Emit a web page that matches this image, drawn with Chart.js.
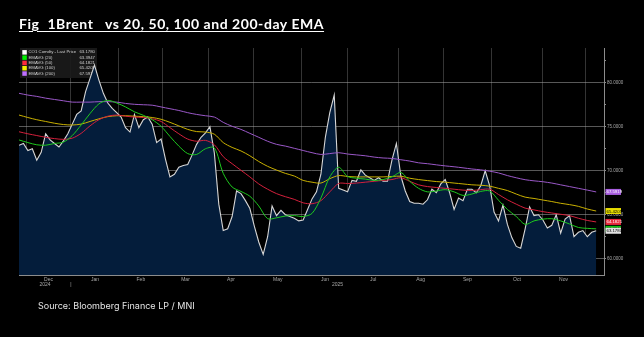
<!DOCTYPE html>
<html><head><meta charset="utf-8">
<script src="https://cdn.jsdelivr.net/npm/chart.js@4.4.1/dist/chart.umd.min.js"></script>
<style>
html,body{margin:0;padding:0;background:#000;width:644px;height:337px;overflow:hidden;}
#wrap{position:relative;width:644px;height:337px;}
#c{position:absolute;left:0;top:0;}
#title{position:absolute;left:19px;top:17px;color:#fff;font:700 14px/14px Lato, sans-serif;letter-spacing:0.55px;text-decoration:underline;text-underline-offset:2px;white-space:pre;}
#src{position:absolute;left:38px;top:301px;color:#e6e6e6;font:9px/9px Inter, sans-serif;white-space:pre;}
</style></head><body>
<div id="wrap"><canvas id="c" width="644" height="337"></canvas>
<div id="title">Fig  1Brent   vs 20, 50, 100 and 200-day EMA</div>
<div id="src">Source: Bloomberg Finance LP / MNI</div></div>
<script>
// ---- data (x unit = one sample = 2 trading days, starting late Nov 2024) ----
const monthLabels = ['Dec','Jan','Feb','Mar','Apr','May','Jun','Jul','Aug','Sep','Oct','Nov'];
const monthStarts = [1.6, 11.7, 22.5, 32.4, 42.6, 52.9, 63.7, 74.1, 85.4, 95.5, 106.5, 117.8, 127.5];
const yearLabels = ['2024','2025'];
const yMajorTicks = [60, 65, 70, 75, 80];
const yMinorTicks = [62.5, 67.5, 72.5, 77.5, 82.5];

const price = [72.9,73.1,72.3,72.5,71.2,72.1,74.2,73.5,73.1,72.7,
73.4,74.2,75.3,76.4,76.8,79.0,80.5,82.0,80.3,78.8,
77.7,77.1,76.6,76.1,74.9,74.4,76.4,74.9,75.8,76.1,
75.3,73.2,73.6,71.3,69.3,69.6,70.4,70.6,70.7,71.8,
73.0,73.8,74.3,75.0,72.0,66.2,63.2,63.4,64.8,67.7,
67.4,66.6,65.7,63.7,61.9,60.5,62.5,66.0,64.9,65.5,
65.0,64.8,64.6,64.3,64.4,65.6,66.8,67.6,69.6,73.8,
76.6,78.6,68.0,67.8,67.6,68.9,68.8,70.1,69.5,69.2,
68.9,69.2,68.8,68.8,71.2,73.1,69.4,67.7,66.5,66.3,
66.3,66.2,66.7,67.9,67.5,68.5,69.0,67.5,65.6,66.9,
66.6,67.9,67.9,67.5,68.3,70.0,68.3,65.3,64.3,66.1,
63.9,62.4,61.4,61.2,63.4,65.9,64.9,65.0,64.4,63.5,
63.8,65.0,62.9,64.5,64.9,62.5,63.0,63.2,62.5,63.0,
63.178];

const emaStep = 2; // EMAs sampled every 2nd price sample
const ema20 = [73.5,73.2,72.95,72.9,73.1,73.25,74.0,75.2,76.5,77.6,
78.0,77.7,77.25,76.7,76.3,75.8,75.05,73.9,72.8,71.95,
71.85,72.5,72.6,69.7,68.15,67.65,67.1,66.0,64.55,64.65,
64.85,64.9,64.8,65.15,66.9,69.3,70.4,69.35,69.15,69.05,
68.9,69.0,69.3,69.8,68.8,68.0,67.6,67.7,67.85,67.6,
67.2,67.35,67.65,67.7,66.65,65.6,64.8,63.9,64.3,64.5,
64.55,64.3,63.95,63.55,63.45,63.3947];
const ema50 = [74.43,74.2,74.0,73.8,73.65,73.57,73.7,74.25,75.1,75.8,
76.2,76.33,76.2,76.1,76.05,75.9,75.6,74.9,74.2,73.6,
73.35,73.45,72.95,71.6,70.8,70.05,69.3,68.5,67.9,67.4,
67.05,66.75,66.35,66.25,66.6,67.6,68.55,68.55,68.6,68.7,
68.8,68.9,69.0,69.2,68.8,68.4,68.2,68.1,68.0,67.9,
67.8,67.75,67.85,67.9,67.3,66.7,66.2,65.75,65.55,65.35,
65.2,65.05,64.9,64.6,64.35,64.1821];
const ema100 = [76.33,76.05,75.8,75.6,75.4,75.25,75.2,75.3,75.6,75.9,
76.15,76.25,76.25,76.2,76.15,76.05,75.85,75.5,75.1,74.7,
74.45,74.4,74.15,73.2,72.65,72.25,71.7,71.05,70.5,70.08,
69.7,69.4,68.9,68.7,68.6,69.1,69.45,69.35,69.3,69.3,
69.3,69.3,69.35,69.38,69.15,69.0,68.88,68.77,68.7,68.6,
68.5,68.4,68.35,68.25,68.0,67.75,67.35,67.0,66.85,66.67,
66.5,66.3,66.15,65.95,65.65,65.4205];
const ema200 = [78.8,78.6,78.45,78.25,78.1,77.95,77.8,77.8,77.8,77.85,
77.85,77.8,77.65,77.55,77.5,77.45,77.25,77.05,76.85,76.6,
76.4,76.25,76.1,75.5,75.05,74.7,74.25,73.8,73.35,73.0,
72.8,72.55,72.3,72.05,71.85,71.95,72.05,71.9,71.8,71.7,
71.55,71.45,71.4,71.25,71.1,70.9,70.8,70.67,70.55,70.45,
70.33,70.2,70.1,69.95,69.75,69.45,69.2,68.98,68.85,68.75,
68.6,68.4,68.2,68.0,67.8,67.5919];

const seriesNames = ['CO1 Comdty - Last Price','EMAVG (20)','EMAVG (50)','EMAVG (100)','EMAVG (200)'];

// ---- styling ----
const X_MIN = 0, X_MAX = 131.76, Y_MIN = 58.15, Y_MAX = 83.95;
const C = {
  price:{line:'#d6d6d6', key:'#ffffff', box:'#e2e2e2', txt:'#000'},
  e20:{line:'#1ec81e', key:'#00f000', box:'#10c010', txt:'#000'},
  e50:{line:'#d4203c', key:'#ff2a3c', box:'#e8283c', txt:'#fff'},
  e100:{line:'#c9b000', key:'#f4f000', box:'#e6dc00', txt:'#000'},
  e200:{line:'#9a58c8', key:'#c070ff', box:'#a85ee0', txt:'#fff'}
};
const toXY = (arr, step) => arr.map((v,k)=>({x:k*step, y:v}));
const last = a => a[a.length-1];

// x-axis ticks: month boundaries (grid), month names, year names
const xTicks = [];
monthStarts.forEach((v,j)=>xTicks.push({value:v, label: j===1 ? ['', '|'] : '', grid:true}));
monthLabels.forEach((m,j)=>xTicks.push({value:(monthStarts[j]+monthStarts[j+1])/2, label:[m,''], grid:false}));
xTicks.push({value:(X_MIN+monthStarts[1])/2, label:['', yearLabels[0]], grid:false});
xTicks.push({value:(monthStarts[1]+X_MAX)/2, label:['', yearLabels[1]], grid:false});
xTicks.sort((a,b)=>a.value-b.value);
const yTicks = yMajorTicks.concat(yMinorTicks).sort((a,b)=>a-b);

const legendRows = [
  {name:seriesNames[0], c:C.price, v:last(price)},
  {name:seriesNames[1], c:C.e20, v:last(ema20)},
  {name:seriesNames[2], c:C.e50, v:last(ema50)},
  {name:seriesNames[3], c:C.e100, v:last(ema100)},
  {name:seriesNames[4], c:C.e200, v:last(ema200)}
];

const bbgLegend = {
  id:'bbgLegend',
  beforeDatasetsDraw(chart){
    const ctx = chart.ctx, a = chart.chartArea;
    ctx.save();
    ctx.fillStyle = 'rgba(26,26,26,0.92)';
    ctx.fillRect(a.left+1, a.top, 77, 30);
    ctx.font = '4.3px Arial';
    ctx.textBaseline = 'middle';
    legendRows.forEach((r,i)=>{
      const y = a.top + 4.3 + i*5.3;
      ctx.fillStyle = r.c.key;
      ctx.fillRect(a.left+3.3, y-2.2, 4.5, 4.5);
      ctx.fillStyle = '#cfcfcf';
      ctx.textAlign = 'left';
      ctx.fillText(r.name, a.left+9.5, y);
      ctx.textAlign = 'right';
      ctx.fillText(r.v.toFixed(4), a.left+76, y);
    });
    ctx.restore();
  }
};
const axisBoxes = {
  id:'axisBoxes',
  afterDraw(chart){
    const ctx = chart.ctx, ys = chart.scales.y, a = chart.chartArea;
    ctx.save();
    ctx.font = '4.3px Arial';
    ctx.textBaseline = 'middle';
    ctx.textAlign = 'left';
    [legendRows[4], legendRows[3], legendRows[2], legendRows[1], legendRows[0]].forEach(r=>{
      const y = ys.getPixelForValue(r.v);
      ctx.fillStyle = r.c.box;
      ctx.fillRect(a.right+1.5, y-3, 15.5, 6);
      ctx.fillStyle = r.c.txt;
      ctx.fillText(r.v.toFixed(4), a.right+2.5, y+0.3);
    });
    ctx.restore();
  }
};

new Chart(document.getElementById('c'), {
  type:'line',
  data:{datasets:[
    {label:seriesNames[1], data:toXY(ema20,emaStep), borderColor:C.e20.line, borderWidth:1, pointRadius:0, tension:0.3, fill:false, order:1},
    {label:seriesNames[2], data:toXY(ema50,emaStep), borderColor:C.e50.line, borderWidth:1, pointRadius:0, tension:0.3, fill:false, order:2},
    {label:seriesNames[3], data:toXY(ema100,emaStep), borderColor:C.e100.line, borderWidth:1, pointRadius:0, tension:0.3, fill:false, order:3},
    {label:seriesNames[4], data:toXY(ema200,emaStep), borderColor:C.e200.line, borderWidth:1, pointRadius:0, tension:0.3, fill:false, order:4},
    {label:seriesNames[0], data:toXY(price,1), borderColor:C.price.line, borderWidth:1.1, pointRadius:0, tension:0, fill:'start', backgroundColor:'#041d3b', order:5}
  ]},
  options:{
    responsive:false, animation:false, devicePixelRatio:1,
    layout:{padding:{left:19, top:48, right:0, bottom:0}},
    plugins:{legend:{display:false}, tooltip:{enabled:false}},
    scales:{
      x:{type:'linear', min:X_MIN, max:X_MAX, z:1,
        afterFit(s){ s.height = 62; },
        afterBuildTicks(s){ s.ticks = xTicks.map(t=>({value:t.value})); },
        grid:{drawTicks:false, lineWidth:1, color:ctx=> (xTicks[ctx.index] && xTicks[ctx.index].grid) ? 'rgba(150,150,150,0.35)' : 'rgba(0,0,0,0)'},
        border:{display:true, color:'#8c8c8c', width:1},
        ticks:{autoSkip:false, maxRotation:0, padding:2, color:'#a8a8a8', font:{family:'Arial', size:5, lineHeight:1.05},
          callback:(v,i)=> xTicks[i] ? xTicks[i].label : ''}
      },
      y:{type:'linear', position:'right', min:Y_MIN, max:Y_MAX, z:1,
        afterFit(s){ s.width = 40; },
        afterBuildTicks(s){ s.ticks = yTicks.map(v=>({value:v})); },
        grid:{drawTicks:true, tickLength:2, tickColor:'#8c8c8c', lineWidth:1,
          color:ctx=> (yMajorTicks.includes(yTicks[ctx.index])) ? 'rgba(160,160,160,0.55)' : 'rgba(0,0,0,0)'},
        border:{display:true, color:'#8c8c8c', width:1},
        ticks:{autoSkip:false, padding:1, color:'#a8a8a8', font:{family:'Arial', size:4.5},
          callback:v=> yMajorTicks.includes(v) ? v.toFixed(4) : ''}
      }
    }
  },
  plugins:[bbgLegend, axisBoxes]
});
</script>
</body></html>
